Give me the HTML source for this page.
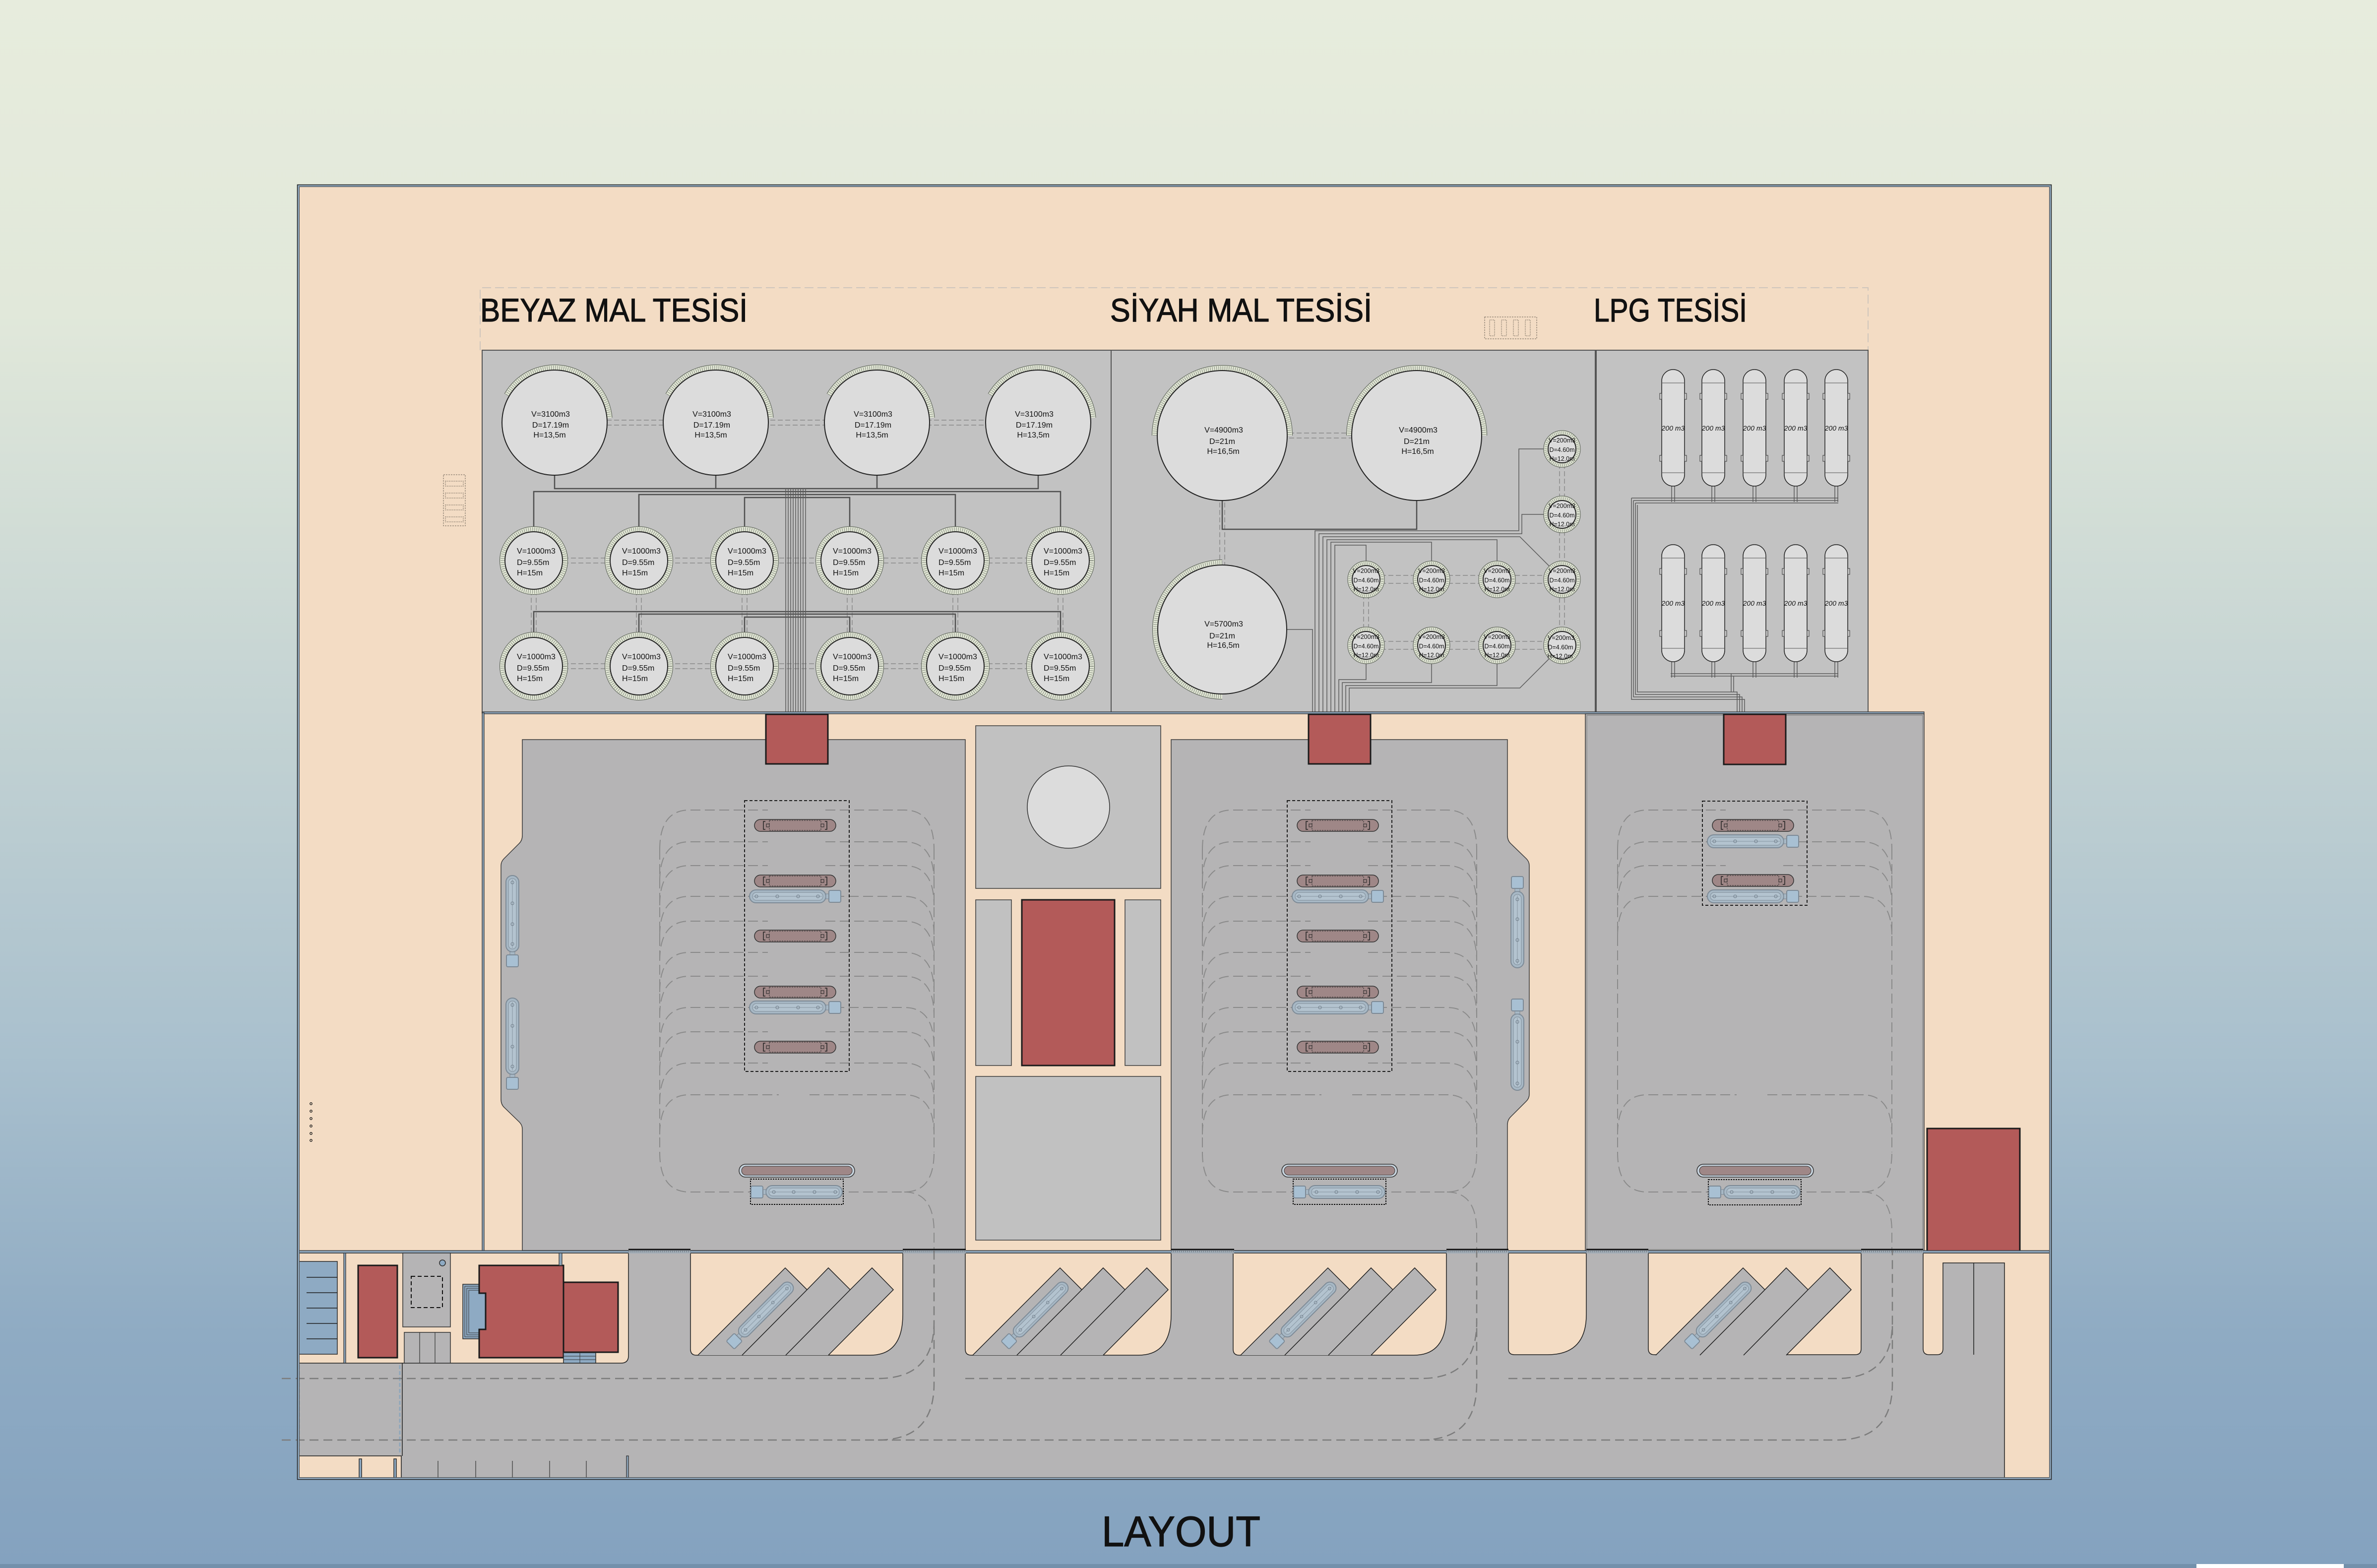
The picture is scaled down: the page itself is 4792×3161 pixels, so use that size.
<!DOCTYPE html>
<html><head><meta charset="utf-8">
<style>
html,body{margin:0;padding:0;width:4792px;height:3161px;overflow:hidden;background:#c4d3d3}
svg{display:block}
text{font-family:"Liberation Sans",Arial,sans-serif;fill:#111}
.tt{stroke:#111;stroke-width:1.2}
.tk{fill:#dcdcdc;stroke:#222;stroke-width:2}
.r1{fill:none;stroke:#4e554a;stroke-width:12}
.r2{fill:none;stroke:#e2e7d6;stroke-width:10}
.r3{fill:none;stroke:#8f9588;stroke-width:8;stroke-dasharray:1.2 3}
.s1{fill:none;stroke:#4e554a;stroke-width:10}
.s2{fill:none;stroke:#e2e7d6;stroke-width:8}
.s3{fill:none;stroke:#8f9588;stroke-width:6;stroke-dasharray:1.2 2.6}
.ds{fill:none;stroke:#8a8a8a;stroke-width:1.5;stroke-dasharray:10 5}
.pp{fill:none;stroke:#4f4f4f;stroke-width:2.5}
.pl{fill:none;stroke:#5a5a5a;stroke-width:1.5}
.red{fill:#b35a59;stroke:#1a1a1a;stroke-width:3}
.pad{fill:#b5b4b5;stroke:#3a3a3a;stroke-width:1.5}
.mc{fill:#c1c1c1;stroke:#3c3c3c;stroke-width:1.5}
.bx{fill:none;stroke:#1e1e1e;stroke-width:2;stroke-dasharray:6 4}
.rd{fill:none;stroke:#7c7c7c;stroke-width:2.5;stroke-dasharray:18 10}
.wall{fill:#8ea6bb;stroke:#2a2a2a;stroke-width:1.2}
.bl{fill:#8eaac3;stroke:#2a2a2a;stroke-width:1.5}
</style></head><body>
<svg xmlns="http://www.w3.org/2000/svg" width="4792" height="3161" viewBox="0 0 4792 3161">
<defs>
<linearGradient id="bg" x1="0" y1="0" x2="0" y2="1">
<stop offset="0" stop-color="#e7ecdd"/>
<stop offset="0.2" stop-color="#e1e8da"/>
<stop offset="0.45" stop-color="#c4d3d3"/>
<stop offset="0.68" stop-color="#a8bfcd"/>
<stop offset="0.85" stop-color="#8fabc3"/>
<stop offset="1" stop-color="#84a2bf"/>
</linearGradient>
<g id="trk">
<rect x="-92" y="-13" width="154" height="26" rx="13" fill="#a7b8c5" stroke="#7d8a96" stroke-width="2"/>
<rect x="-86" y="-8" width="142" height="16" rx="8" fill="#b3c3cf" stroke="#8795a1" stroke-width="1.2"/>
<line x1="-84" y1="0" x2="54" y2="0" stroke="#8795a1" stroke-width="1"/>
<circle cx="-78" cy="0" r="3" fill="none" stroke="#6f7c88" stroke-width="1"/>
<circle cx="-36" cy="0" r="3" fill="none" stroke="#6f7c88" stroke-width="1"/>
<circle cx="6" cy="0" r="3" fill="none" stroke="#6f7c88" stroke-width="1"/>
<circle cx="46" cy="0" r="3" fill="none" stroke="#6f7c88" stroke-width="1"/>
<rect x="62" y="-5" width="6" height="10" fill="#a7b8c5" stroke="#7d8a96"/>
<rect x="68" y="-12" width="24" height="24" rx="3" fill="#a8c0d3" stroke="#7d8a96" stroke-width="2"/>
</g>
<g id="bay">
<rect x="-82" y="-12" width="164" height="24" rx="12" fill="#9f8787" stroke="#333" stroke-width="1.5"/>
<rect x="-52" y="-10" width="104" height="20" fill="none" stroke="#333" stroke-width="1" stroke-dasharray="3 2"/>
<path d="M-60,-8 H-64 V8 H-60 M60,-8 H64 V8 H60" fill="none" stroke="#222" stroke-width="1.5"/>
<rect x="-58" y="-3" width="6" height="6" fill="none" stroke="#222"/>
<rect x="52" y="-3" width="6" height="6" fill="none" stroke="#222"/>
</g>
<g id="lnA" fill="none" stroke="#8a8a8a" stroke-width="2" stroke-dasharray="20 9">
<path d="M-273,1713 Q-273,1633 -213,1633 H-55 M61,1633 H220 Q280,1633 280,1713"/>
<path d="M-273,1777 Q-273,1697 -213,1697 H-55 M61,1697 H220 Q280,1697 280,1777"/>
<path d="M-273,1825 Q-273,1745 -213,1745 H-55 M61,1745 H220 Q280,1745 280,1825"/>
<path d="M-273,1887 Q-273,1807 -213,1807 H220 Q280,1807 280,1887"/>
<path d="M-273,2287 Q-273,2207 -213,2207 H-33 M29,2207 H220 Q280,2207 280,2287"/>
<path d="M-273,2323 Q-273,2403 -213,2403 H220 Q280,2403 280,2323"/>
<path d="M220,2403 Q280,2403 280,2483 V2521"/>
<path d="M-273,1713 V2323 M280,1713 V2323"/>
</g>
<g id="lnB" fill="none" stroke="#8a8a8a" stroke-width="2" stroke-dasharray="20 9">
<path d="M-273,1937 Q-273,1857 -213,1857 H-55 M61,1857 H220 Q280,1857 280,1937"/>
<path d="M-273,2000 Q-273,1920 -213,1920 H-55 M61,1920 H220 Q280,1920 280,2000"/>
<path d="M-273,2048 Q-273,1968 -213,1968 H-55 M61,1968 H220 Q280,1968 280,2048"/>
<path d="M-273,2111 Q-273,2031 -213,2031 H220 Q280,2031 280,2111"/>
<path d="M-273,2160 Q-273,2080 -213,2080 H-55 M61,2080 H220 Q280,2080 280,2160"/>
<path d="M-273,2223 Q-273,2143 -213,2143 H-55 M61,2143 H220 Q280,2143 280,2223"/>
</g>
<g id="saw">
<path d="M15,2732 L191,2556 L235,2600 L278,2556 L322,2600 L366,2556 L409,2600 L278,2732 Z" fill="#b5b4b5"/>
<path d="M15,2732 L191,2556 L235,2600 L278,2556 L322,2600 L366,2556 L409,2600 L278,2732 M104,2732 L235,2600 M192,2732 L322,2600" fill="none" stroke="#1e1e1e" stroke-width="1.5"/>
<use href="#trk" transform="translate(142,2650) rotate(135) scale(0.95)"/>
</g>
</defs>

<rect width="4792" height="3161" fill="url(#bg)"/>
<rect y="3153" width="4792" height="8" fill="#7390ab"/>
<rect x="4428" y="3153" width="297" height="8" fill="#ffffff"/>

<!-- site -->
<rect x="600" y="373" width="3535" height="2609" fill="#f3dcc4"/>

<path d="M968,706 V580 H3766 V706" fill="none" stroke="#cfc6bc" stroke-width="2" stroke-dasharray="18 8"/>
<text class="tt" x="968" y="648" font-size="66" textLength="539" lengthAdjust="spacingAndGlyphs">BEYAZ MAL TESİSİ</text>
<text class="tt" x="2238" y="648" font-size="66" textLength="528" lengthAdjust="spacingAndGlyphs">SİYAH MAL TESİSİ</text>
<text class="tt" x="3213" y="648" font-size="66" textLength="309" lengthAdjust="spacingAndGlyphs">LPG TESİSİ</text>

<!-- small icons -->
<g fill="none" stroke="#9a8b7c" stroke-width="1.5">
<rect x="894" y="957" width="44" height="103" stroke-dasharray="3 2"/>
<rect x="898" y="970" width="36" height="10" stroke-dasharray="2 1.5"/>
<rect x="898" y="994" width="36" height="10" stroke-dasharray="2 1.5"/>
<rect x="898" y="1018" width="36" height="10" stroke-dasharray="2 1.5"/>
<rect x="898" y="1042" width="36" height="10" stroke-dasharray="2 1.5"/>
<rect x="2993" y="639" width="105" height="44" stroke-dasharray="3 2"/>
<rect x="3003" y="645" width="10" height="32" stroke-dasharray="2 1.5"/>
<rect x="3027" y="645" width="10" height="32" stroke-dasharray="2 1.5"/>
<rect x="3051" y="645" width="10" height="32" stroke-dasharray="2 1.5"/>
<rect x="3075" y="645" width="10" height="32" stroke-dasharray="2 1.5"/>
</g>

<!-- tank boxes -->
<rect x="972" y="706" width="1268" height="731" fill="#c2c2c2" stroke="#555" stroke-width="2"/>
<rect x="2240" y="706" width="976" height="731" fill="#c2c2c2" stroke="#555" stroke-width="2"/>
<rect x="3218" y="706" width="548" height="731" fill="#c2c2c2" stroke="#555" stroke-width="2"/>

<!-- dashed connections -->
<path class="ds" d="M1118,847 H2093 M1118,857 H2093"/>
<path class="ds" d="M1076,1125 H2138 M1076,1135 H2138 M1076,1338 H2138 M1076,1348 H2138"/>
<path class="ds" d="M1071,1130 V1343 M1081,1130 V1343 M1283,1130 V1343 M1293,1130 V1343 M1496,1130 V1343 M1506,1130 V1343 M1708,1130 V1343 M1718,1130 V1343 M1921,1130 V1343 M1931,1130 V1343 M2133,1130 V1343 M2143,1130 V1343"/>
<path class="ds" d="M2464,873 H2856 M2464,883 H2856 M2459,878 V1269 M2469,878 V1269"/>
<path class="ds" d="M2754,1160 H3149 M2754,1176 H3149 M2754,1293 H3149 M2754,1309 H3149 M3144,905 V1301 M3154,905 V1301 M2749,1168 V1301 M2759,1168 V1301"/>

<!-- Beyaz pipes -->
<path class="pp" d="M1118,958 V985 H2093 V958 M1443,958 V985 M1768,958 V985"/>
<path class="pp" d="M1076,1062 V991 H2138 V1062 M1288,1062 V997 H1926 V1062 M1501,1062 V1003 H1713 V1062"/>
<path class="pp" d="M1076,1275 V1233 H2138 V1275 M1288,1275 V1238 H1926 V1275 M1501,1275 V1244 H1713 V1275"/>
<path class="pl" d="M1584,985 V1437 M1589,985 V1437 M1594,985 V1437 M1599,985 V1437 M1604,985 V1437 M1609,985 V1437 M1614,985 V1437 M1619,985 V1437 M1624,985 V1437"/>

<!-- Siyah pipes -->
<path class="pp" d="M2464,1009 V1067 H2856 V1009"/>
<path class="pl" d="M2651,1437 V1070 H3062 V905 H3112"/>
<path class="pl" d="M2659,1437 V1076 H3068 V1037 H3112"/>
<path class="pl" d="M2667,1437 V1082 H3064 L3128,1146"/>
<path class="pl" d="M2675,1437 V1088 H3018 V1132"/>
<path class="pl" d="M2683,1437 V1093 H2886 V1132"/>
<path class="pl" d="M2691,1437 V1099 H2754 V1132"/>
<path class="pl" d="M2699,1437 V1370 H2754 V1337"/>
<path class="pl" d="M2706,1437 V1376 H2886 V1337"/>
<path class="pl" d="M2713,1437 V1382 H3018 V1337"/>
<path class="pl" d="M2720,1437 V1387 H3064 L3128,1323"/>
<path class="pl" d="M2594,1269 H2646 V1437"/>

<!-- LPG pipes -->
<path class="pl" d="M3370,980 V1012 M3376,980 V1012 M3451,980 V1012 M3457,980 V1012 M3534,980 V1012 M3540,980 V1012 M3617,980 V1012 M3623,980 V1012 M3699,980 V1012 M3705,980 V1012"/>
<path class="pl" d="M3289,1004 H3706 M3293,1009 H3706 M3297,1014 H3706"/>
<path class="pl" d="M3289,1004 V1410 H3517 V1437 M3293,1009 V1405 H3512 V1437 M3297,1014 V1400 H3507 V1437 M3301,1018 V1395 H3502 V1437"/>
<path class="pl" d="M3370,1334 V1366 M3376,1334 V1366 M3451,1334 V1366 M3457,1334 V1366 M3534,1334 V1366 M3540,1334 V1366 M3617,1334 V1366 M3623,1334 V1366 M3699,1334 V1366 M3705,1334 V1366"/>
<path class="pl" d="M3368,1358 H3706 M3368,1363 H3706 M3490,1358 V1395 M3495,1363 V1395"/>

<!-- 3100 tanks -->
<path class="r1" d="M1021.9,796.5 A111,111 0 0 1 1228.6,842.3"/><path class="r2" d="M1021.9,796.5 A111,111 0 0 1 1228.6,842.3"/><path class="r3" d="M1021.9,796.5 A111,111 0 0 1 1228.6,842.3"/>
<path class="r1" d="M1346.9,796.5 A111,111 0 0 1 1553.6,842.3"/><path class="r2" d="M1346.9,796.5 A111,111 0 0 1 1553.6,842.3"/><path class="r3" d="M1346.9,796.5 A111,111 0 0 1 1553.6,842.3"/>
<path class="r1" d="M1671.9,796.5 A111,111 0 0 1 1878.6,842.3"/><path class="r2" d="M1671.9,796.5 A111,111 0 0 1 1878.6,842.3"/><path class="r3" d="M1671.9,796.5 A111,111 0 0 1 1878.6,842.3"/>
<path class="r1" d="M1996.9,796.5 A111,111 0 0 1 2203.6,842.3"/><path class="r2" d="M1996.9,796.5 A111,111 0 0 1 2203.6,842.3"/><path class="r3" d="M1996.9,796.5 A111,111 0 0 1 2203.6,842.3"/>
<circle class="tk" cx="1118" cy="852" r="106"/>
<circle class="tk" cx="1443" cy="852" r="106"/>
<circle class="tk" cx="1768" cy="852" r="106"/>
<circle class="tk" cx="2093" cy="852" r="106"/>
<g font-size="16" text-anchor="middle">
<text x="1110" y="840">V=3100m3</text><text x="1110" y="862">D=17.19m</text><text x="1108" y="882">H=13,5m</text>
<text x="1435" y="840">V=3100m3</text><text x="1435" y="862">D=17.19m</text><text x="1433" y="882">H=13,5m</text>
<text x="1760" y="840">V=3100m3</text><text x="1760" y="862">D=17.19m</text><text x="1758" y="882">H=13,5m</text>
<text x="2085" y="840">V=3100m3</text><text x="2085" y="862">D=17.19m</text><text x="2083" y="882">H=13,5m</text>
</g>

<!-- 1000 tanks -->
<g>
<circle class="r1" cx="1076" cy="1130" r="63"/><circle class="r2" cx="1076" cy="1130" r="63"/><circle class="r3" cx="1076" cy="1130" r="63"/><circle class="tk" cx="1076" cy="1130" r="58"/>
<circle class="r1" cx="1288" cy="1130" r="63"/><circle class="r2" cx="1288" cy="1130" r="63"/><circle class="r3" cx="1288" cy="1130" r="63"/><circle class="tk" cx="1288" cy="1130" r="58"/>
<circle class="r1" cx="1501" cy="1130" r="63"/><circle class="r2" cx="1501" cy="1130" r="63"/><circle class="r3" cx="1501" cy="1130" r="63"/><circle class="tk" cx="1501" cy="1130" r="58"/>
<circle class="r1" cx="1713" cy="1130" r="63"/><circle class="r2" cx="1713" cy="1130" r="63"/><circle class="r3" cx="1713" cy="1130" r="63"/><circle class="tk" cx="1713" cy="1130" r="58"/>
<circle class="r1" cx="1926" cy="1130" r="63"/><circle class="r2" cx="1926" cy="1130" r="63"/><circle class="r3" cx="1926" cy="1130" r="63"/><circle class="tk" cx="1926" cy="1130" r="58"/>
<circle class="r1" cx="2138" cy="1130" r="63"/><circle class="r2" cx="2138" cy="1130" r="63"/><circle class="r3" cx="2138" cy="1130" r="63"/><circle class="tk" cx="2138" cy="1130" r="58"/>
<circle class="r1" cx="1076" cy="1343" r="63"/><circle class="r2" cx="1076" cy="1343" r="63"/><circle class="r3" cx="1076" cy="1343" r="63"/><circle class="tk" cx="1076" cy="1343" r="58"/>
<circle class="r1" cx="1288" cy="1343" r="63"/><circle class="r2" cx="1288" cy="1343" r="63"/><circle class="r3" cx="1288" cy="1343" r="63"/><circle class="tk" cx="1288" cy="1343" r="58"/>
<circle class="r1" cx="1501" cy="1343" r="63"/><circle class="r2" cx="1501" cy="1343" r="63"/><circle class="r3" cx="1501" cy="1343" r="63"/><circle class="tk" cx="1501" cy="1343" r="58"/>
<circle class="r1" cx="1713" cy="1343" r="63"/><circle class="r2" cx="1713" cy="1343" r="63"/><circle class="r3" cx="1713" cy="1343" r="63"/><circle class="tk" cx="1713" cy="1343" r="58"/>
<circle class="r1" cx="1926" cy="1343" r="63"/><circle class="r2" cx="1926" cy="1343" r="63"/><circle class="r3" cx="1926" cy="1343" r="63"/><circle class="tk" cx="1926" cy="1343" r="58"/>
<circle class="r1" cx="2138" cy="1343" r="63"/><circle class="r2" cx="2138" cy="1343" r="63"/><circle class="r3" cx="2138" cy="1343" r="63"/><circle class="tk" cx="2138" cy="1343" r="58"/>
</g>
<g font-size="16">
<text x="1042" y="1116">V=1000m3</text><text x="1042" y="1139">D=9.55m</text><text x="1042" y="1160">H=15m</text>
<text x="1254" y="1116">V=1000m3</text><text x="1254" y="1139">D=9.55m</text><text x="1254" y="1160">H=15m</text>
<text x="1467" y="1116">V=1000m3</text><text x="1467" y="1139">D=9.55m</text><text x="1467" y="1160">H=15m</text>
<text x="1679" y="1116">V=1000m3</text><text x="1679" y="1139">D=9.55m</text><text x="1679" y="1160">H=15m</text>
<text x="1892" y="1116">V=1000m3</text><text x="1892" y="1139">D=9.55m</text><text x="1892" y="1160">H=15m</text>
<text x="2104" y="1116">V=1000m3</text><text x="2104" y="1139">D=9.55m</text><text x="2104" y="1160">H=15m</text>
<text x="1042" y="1329">V=1000m3</text><text x="1042" y="1352">D=9.55m</text><text x="1042" y="1373">H=15m</text>
<text x="1254" y="1329">V=1000m3</text><text x="1254" y="1352">D=9.55m</text><text x="1254" y="1373">H=15m</text>
<text x="1467" y="1329">V=1000m3</text><text x="1467" y="1352">D=9.55m</text><text x="1467" y="1373">H=15m</text>
<text x="1679" y="1329">V=1000m3</text><text x="1679" y="1352">D=9.55m</text><text x="1679" y="1373">H=15m</text>
<text x="1892" y="1329">V=1000m3</text><text x="1892" y="1352">D=9.55m</text><text x="1892" y="1373">H=15m</text>
<text x="2104" y="1329">V=1000m3</text><text x="2104" y="1352">D=9.55m</text><text x="2104" y="1373">H=15m</text>
</g>

<!-- Siyah big tanks -->
<path class="r1" d="M2328,878 A136,136 0 0 1 2600,878"/><path class="r2" d="M2328,878 A136,136 0 0 1 2600,878"/><path class="r3" d="M2328,878 A136,136 0 0 1 2600,878"/>
<path class="r1" d="M2720,878 A136,136 0 0 1 2992,878"/><path class="r2" d="M2720,878 A136,136 0 0 1 2992,878"/><path class="r3" d="M2720,878 A136,136 0 0 1 2992,878"/>
<path class="r1" d="M2464,1134 A135,135 0 0 0 2464,1404"/><path class="r2" d="M2464,1134 A135,135 0 0 0 2464,1404"/><path class="r3" d="M2464,1134 A135,135 0 0 0 2464,1404"/>
<circle class="tk" cx="2464" cy="878" r="131"/>
<circle class="tk" cx="2856" cy="878" r="131"/>
<circle class="tk" cx="2464" cy="1269" r="130"/>
<g font-size="16" text-anchor="middle">
<text x="2467" y="872">V=4900m3</text><text x="2464" y="895">D=21m</text><text x="2466" y="915">H=16,5m</text>
<text x="2859" y="872">V=4900m3</text><text x="2856" y="895">D=21m</text><text x="2858" y="915">H=16,5m</text>
<text x="2467" y="1263">V=5700m3</text><text x="2464" y="1287">D=21m</text><text x="2466" y="1306">H=16,5m</text>
</g>

<!-- small 200 tanks -->
<g>
<circle class="s1" cx="3149" cy="905" r="32.5"/><circle class="s2" cx="3149" cy="905" r="32.5"/><circle class="s3" cx="3149" cy="905" r="32.5"/><circle class="tk" cx="3149" cy="905" r="28"/>
<circle class="s1" cx="3149" cy="1037" r="32.5"/><circle class="s2" cx="3149" cy="1037" r="32.5"/><circle class="s3" cx="3149" cy="1037" r="32.5"/><circle class="tk" cx="3149" cy="1037" r="28"/>
<circle class="s1" cx="2754" cy="1168" r="32.5"/><circle class="s2" cx="2754" cy="1168" r="32.5"/><circle class="s3" cx="2754" cy="1168" r="32.5"/><circle class="tk" cx="2754" cy="1168" r="28"/>
<circle class="s1" cx="2886" cy="1168" r="32.5"/><circle class="s2" cx="2886" cy="1168" r="32.5"/><circle class="s3" cx="2886" cy="1168" r="32.5"/><circle class="tk" cx="2886" cy="1168" r="28"/>
<circle class="s1" cx="3018" cy="1168" r="32.5"/><circle class="s2" cx="3018" cy="1168" r="32.5"/><circle class="s3" cx="3018" cy="1168" r="32.5"/><circle class="tk" cx="3018" cy="1168" r="28"/>
<circle class="s1" cx="3149" cy="1168" r="32.5"/><circle class="s2" cx="3149" cy="1168" r="32.5"/><circle class="s3" cx="3149" cy="1168" r="32.5"/><circle class="tk" cx="3149" cy="1168" r="28"/>
<circle class="s1" cx="2754" cy="1301" r="32.5"/><circle class="s2" cx="2754" cy="1301" r="32.5"/><circle class="s3" cx="2754" cy="1301" r="32.5"/><circle class="tk" cx="2754" cy="1301" r="28"/>
<circle class="s1" cx="2886" cy="1301" r="32.5"/><circle class="s2" cx="2886" cy="1301" r="32.5"/><circle class="s3" cx="2886" cy="1301" r="32.5"/><circle class="tk" cx="2886" cy="1301" r="28"/>
<circle class="s1" cx="3018" cy="1301" r="32.5"/><circle class="s2" cx="3018" cy="1301" r="32.5"/><circle class="s3" cx="3018" cy="1301" r="32.5"/><circle class="tk" cx="3018" cy="1301" r="28"/>
<circle class="s1" cx="3149" cy="1301" r="32.5"/><circle class="s2" cx="3149" cy="1301" r="32.5"/><circle class="s3" cx="3149" cy="1301" r="32.5"/><circle class="tk" cx="3149" cy="1301" r="28"/>
</g>
<g font-size="12.5" text-anchor="middle">
<text x="3149" y="892">V=200m3</text><text x="3149" y="911">D=4.60m</text><text x="3149" y="929">H=12.0m</text>
<text x="3149" y="1024">V=200m3</text><text x="3149" y="1043">D=4.60m</text><text x="3149" y="1061">H=12.0m</text>
<text x="2754" y="1155">V=200m3</text><text x="2754" y="1174">D=4.60m</text><text x="2754" y="1192">H=12.0m</text>
<text x="2886" y="1155">V=200m3</text><text x="2886" y="1174">D=4.60m</text><text x="2886" y="1192">H=12.0m</text>
<text x="3018" y="1155">V=200m3</text><text x="3018" y="1174">D=4.60m</text><text x="3018" y="1192">H=12.0m</text>
<text x="3149" y="1155">V=200m3</text><text x="3149" y="1174">D=4.60m</text><text x="3149" y="1192">H=12.0m</text>
<text x="2754" y="1288">V=200m3</text><text x="2754" y="1307">D=4.60m</text><text x="2754" y="1325">H=12.0m</text>
<text x="2886" y="1288">V=200m3</text><text x="2886" y="1307">D=4.60m</text><text x="2886" y="1325">H=12.0m</text>
<text x="3018" y="1288">V=200m3</text><text x="3018" y="1307">D=4.60m</text><text x="3018" y="1325">H=12.0m</text>
<text x="3147" y="1290">V=200m3</text><text x="3146" y="1309">D=4.60m</text><text x="3145" y="1327">H=12.0m</text>
</g>

<!-- LPG bullet tanks -->
<g fill="#dcdcdc" stroke="#222" stroke-width="1.5">
<rect x="3350" y="745" width="46" height="235" rx="23"/><rect x="3431" y="745" width="46" height="235" rx="23"/><rect x="3514" y="745" width="46" height="235" rx="23"/><rect x="3597" y="745" width="46" height="235" rx="23"/><rect x="3679" y="745" width="46" height="235" rx="23"/>
<rect x="3350" y="1098" width="46" height="236" rx="23"/><rect x="3431" y="1098" width="46" height="236" rx="23"/><rect x="3514" y="1098" width="46" height="236" rx="23"/><rect x="3597" y="1098" width="46" height="236" rx="23"/><rect x="3679" y="1098" width="46" height="236" rx="23"/>
</g>
<g fill="none" stroke="#555" stroke-width="1">
<path d="M3350,772 H3396 M3350,953 H3396 M3431,772 H3477 M3431,953 H3477 M3514,772 H3560 M3514,953 H3560 M3597,772 H3643 M3597,953 H3643 M3679,772 H3725 M3679,953 H3725"/>
<path d="M3350,1125 H3396 M3350,1307 H3396 M3431,1125 H3477 M3431,1307 H3477 M3514,1125 H3560 M3514,1307 H3560 M3597,1125 H3643 M3597,1307 H3643 M3679,1125 H3725 M3679,1307 H3725"/>
</g>
<g fill="#cfcfcf" stroke="#333" stroke-width="1">
<rect x="3346" y="793" width="4" height="12"/><rect x="3396" y="793" width="4" height="12"/><rect x="3346" y="918" width="4" height="12"/><rect x="3396" y="918" width="4" height="12"/>
<rect x="3427" y="793" width="4" height="12"/><rect x="3477" y="793" width="4" height="12"/><rect x="3427" y="918" width="4" height="12"/><rect x="3477" y="918" width="4" height="12"/>
<rect x="3510" y="793" width="4" height="12"/><rect x="3560" y="793" width="4" height="12"/><rect x="3510" y="918" width="4" height="12"/><rect x="3560" y="918" width="4" height="12"/>
<rect x="3593" y="793" width="4" height="12"/><rect x="3643" y="793" width="4" height="12"/><rect x="3593" y="918" width="4" height="12"/><rect x="3643" y="918" width="4" height="12"/>
<rect x="3675" y="793" width="4" height="12"/><rect x="3725" y="793" width="4" height="12"/><rect x="3675" y="918" width="4" height="12"/><rect x="3725" y="918" width="4" height="12"/>
<rect x="3346" y="1146" width="4" height="12"/><rect x="3396" y="1146" width="4" height="12"/><rect x="3346" y="1271" width="4" height="12"/><rect x="3396" y="1271" width="4" height="12"/>
<rect x="3427" y="1146" width="4" height="12"/><rect x="3477" y="1146" width="4" height="12"/><rect x="3427" y="1271" width="4" height="12"/><rect x="3477" y="1271" width="4" height="12"/>
<rect x="3510" y="1146" width="4" height="12"/><rect x="3560" y="1146" width="4" height="12"/><rect x="3510" y="1271" width="4" height="12"/><rect x="3560" y="1271" width="4" height="12"/>
<rect x="3593" y="1146" width="4" height="12"/><rect x="3643" y="1146" width="4" height="12"/><rect x="3593" y="1271" width="4" height="12"/><rect x="3643" y="1271" width="4" height="12"/>
<rect x="3675" y="1146" width="4" height="12"/><rect x="3725" y="1146" width="4" height="12"/><rect x="3675" y="1271" width="4" height="12"/><rect x="3725" y="1271" width="4" height="12"/>
</g>
<g font-size="14" font-style="italic" text-anchor="middle">
<text x="3373" y="868">200 m3</text><text x="3454" y="868">200 m3</text><text x="3537" y="868">200 m3</text><text x="3620" y="868">200 m3</text><text x="3702" y="868">200 m3</text>
<text x="3373" y="1221">200 m3</text><text x="3454" y="1221">200 m3</text><text x="3537" y="1221">200 m3</text><text x="3620" y="1221">200 m3</text><text x="3702" y="1221">200 m3</text>
</g>

<!-- loading region -->
<rect class="wall" x="972" y="1435" width="2907" height="4"/>
<rect class="wall" x="972" y="1437" width="4" height="1085"/>
<path class="pad" d="M1053,1491 H1946 V2521 H1053 V2276 Q1053,2268 1047,2262 L1016,2232 Q1010,2226 1010,2216 V1745 Q1010,1737 1016,1731 L1047,1700 Q1053,1694 1053,1684 Z"/>
<path class="pad" d="M2361,1491 H3039 V1684 Q3039,1694 3045,1700 L3077,1731 Q3083,1737 3083,1745 V2206 Q3083,2214 3077,2220 L3045,2252 Q3039,2258 3039,2268 V2521 H2361 Z"/>
<rect class="pad" x="3196" y="1439" width="683" height="1083" stroke-width="2.5"/>
<rect x="3199" y="1442" width="677" height="1077" fill="none" stroke="#777" stroke-width="1"/>

<!-- middle column -->
<rect class="mc" x="1967" y="1463" width="373" height="328"/>
<circle cx="2154" cy="1627" r="83" fill="#dcdcdc" stroke="#333" stroke-width="1.5"/>
<rect class="mc" x="1967" y="1814" width="72" height="334"/>
<rect class="mc" x="2268" y="1814" width="72" height="334"/>
<rect class="red" x="2060" y="1814" width="187" height="334"/>
<rect class="mc" x="1967" y="2170" width="373" height="330"/>

<!-- red heads -->
<rect class="red" x="1544" y="1440" width="125" height="100"/>
<rect class="red" x="2638" y="1440" width="125" height="100"/>
<rect class="red" x="3475" y="1440" width="125" height="101"/>

<!-- lanes -->
<use href="#lnA" x="1603"/><use href="#lnB" x="1603"/>
<use href="#lnA" x="2697"/><use href="#lnB" x="2697"/>
<use href="#lnA" x="3534"/>

<!-- dashed boxes -->
<rect class="bx" x="1501" y="1614" width="211" height="546"/>
<rect class="bx" x="2595" y="1614" width="211" height="546"/>
<rect class="bx" x="3432" y="1615" width="211" height="210"/>

<!-- bays & trucks -->
<use href="#bay" transform="translate(1603,1664)"/><use href="#bay" transform="translate(1603,1776)"/><use href="#bay" transform="translate(1603,1887)"/><use href="#bay" transform="translate(1603,2000)"/><use href="#bay" transform="translate(1603,2111)"/>
<use href="#trk" transform="translate(1603,1807)"/><use href="#trk" transform="translate(1603,2031)"/>
<use href="#bay" transform="translate(2697,1664)"/><use href="#bay" transform="translate(2697,1776)"/><use href="#bay" transform="translate(2697,1887)"/><use href="#bay" transform="translate(2697,2000)"/><use href="#bay" transform="translate(2697,2111)"/>
<use href="#trk" transform="translate(2697,1807)"/><use href="#trk" transform="translate(2697,2031)"/>
<use href="#bay" transform="translate(3534,1664)"/><use href="#bay" transform="translate(3534,1775)"/>
<use href="#trk" transform="translate(3534,1696)"/><use href="#trk" transform="translate(3534,1807)"/>

<!-- bottom pills + trucks -->
<g>
<rect x="1490" y="2347" width="233" height="26" rx="13" fill="#c7d3dd" stroke="#333" stroke-width="1.5"/>
<rect x="1495" y="2351" width="223" height="18" rx="9" fill="#9f8787" stroke="#333" stroke-width="1"/>
<rect x="1513" y="2377" width="187" height="51" fill="none" stroke="#111" stroke-width="2" stroke-dasharray="3 2"/>
<use href="#trk" transform="translate(1606,2403) rotate(180)"/>
<rect x="2584" y="2347" width="233" height="26" rx="13" fill="#c7d3dd" stroke="#333" stroke-width="1.5"/>
<rect x="2589" y="2351" width="223" height="18" rx="9" fill="#9f8787" stroke="#333" stroke-width="1"/>
<rect x="2607" y="2377" width="187" height="51" fill="none" stroke="#111" stroke-width="2" stroke-dasharray="3 2"/>
<use href="#trk" transform="translate(2700,2403) rotate(180)"/>
<rect x="3421" y="2347" width="235" height="26" rx="13" fill="#c7d3dd" stroke="#333" stroke-width="1.5"/>
<rect x="3426" y="2351" width="225" height="18" rx="9" fill="#9f8787" stroke="#333" stroke-width="1"/>
<rect x="3444" y="2378" width="187" height="51" fill="none" stroke="#111" stroke-width="2" stroke-dasharray="3 2"/>
<use href="#trk" transform="translate(3537,2403) rotate(180)"/>
</g>

<!-- side trucks -->
<use href="#trk" transform="translate(1033,1857) rotate(90)"/>
<use href="#trk" transform="translate(1033,2104) rotate(90)"/>
<use href="#trk" transform="translate(3059,1859) rotate(-90)"/>
<use href="#trk" transform="translate(3059,2106) rotate(-90)"/>

<!-- right red building -->
<rect class="red" x="3885" y="2275" width="187" height="251"/>

<!-- bottom strip -->
<rect x="600" y="2526" width="3535" height="456" fill="#b5b4b5"/>
<path d="M600,2526 H1267 V2733 Q1267,2748 1252,2748 H600 Z" fill="#f3dcc4" stroke="#1e1e1e" stroke-width="1.5"/>
<path d="M600,2543 H680 V2730 H600" class="bl"/>
<path d="M618,2575 H680 M618,2606 H680 M618,2637 H680 M618,2668 H680 M618,2699 H680" stroke="#1e1e1e" stroke-width="1.5"/>
<rect class="wall" x="693" y="2526" width="4" height="222"/>

<path d="M1392,2526 H1820 V2650 Q1820,2732 1754,2732 H1404 Q1392,2732 1392,2720 Z" fill="#f3dcc4" stroke="#1e1e1e" stroke-width="1.5"/>
<path d="M1946,2526 H2361 V2650 Q2361,2732 2295,2732 H1958 Q1946,2732 1946,2720 Z" fill="#f3dcc4" stroke="#1e1e1e" stroke-width="1.5"/>
<path d="M2486,2526 H2916 V2650 Q2916,2732 2850,2732 H2498 Q2486,2732 2486,2720 Z" fill="#f3dcc4" stroke="#1e1e1e" stroke-width="1.5"/>
<path d="M3323,2526 H3752 V2719 Q3752,2731 3740,2731 H3335 Q3323,2731 3323,2719 Z" fill="#f3dcc4" stroke="#1e1e1e" stroke-width="1.5"/>
<path d="M3041,2526 H3198 V2650 Q3198,2731 3120,2731 H3053 Q3041,2731 3041,2719 Z" fill="#f3dcc4" stroke="#1e1e1e" stroke-width="1.5"/>
<path d="M3877,2526 H4135 V2982 H4041 V2546 H3917 V2719 Q3917,2731 3905,2731 H3889 Q3877,2731 3877,2719 Z" fill="#f3dcc4" stroke="#1e1e1e" stroke-width="1.5"/>
<path d="M3979,2546 V2731" stroke="#1e1e1e" stroke-width="1.5"/>

<use href="#saw" x="1392"/>
<use href="#saw" x="1946"/>
<use href="#saw" x="2486"/>
<use href="#saw" x="3323"/>

<!-- wall at 2521 and gates -->
<rect class="wall" x="600" y="2521" width="3535" height="5"/>
<g fill="#a3adb6">
<rect x="1267" y="2519" width="125" height="8"/><rect x="1820" y="2519" width="127" height="8"/><rect x="2361" y="2519" width="127" height="8"/><rect x="2916" y="2519" width="125" height="8"/><rect x="3198" y="2519" width="125" height="8"/><rect x="3752" y="2519" width="125" height="8"/>
</g>
<path d="M1267,2519 H1392 M1820,2519 H1947 M2361,2519 H2488 M2916,2519 H3041 M3198,2519 H3323 M3752,2519 H3877" stroke="#111" stroke-width="3"/>
<path d="M1267,2523 H1392 M1820,2523 H1947 M2361,2523 H2488 M2916,2523 H3041 M3198,2523 H3323 M3752,2523 H3877" stroke="#7b8690" stroke-width="3" stroke-dasharray="2 2"/>

<!-- admin area details -->
<rect class="red" x="722" y="2551" width="79" height="186"/>
<rect x="812" y="2526" width="96" height="149" fill="#b5b4b5" stroke="#333" stroke-width="1.5"/>
<circle cx="892" cy="2546" r="6" class="bl"/>
<rect x="829" y="2573" width="63" height="63" fill="none" stroke="#111" stroke-width="2" stroke-dasharray="8 5"/>
<rect x="815" y="2686" width="93" height="62" fill="#b5b4b5" stroke="#333" stroke-width="1.5"/>
<path d="M846,2686 V2748 M877,2686 V2748" stroke="#333" stroke-width="1.2"/>
<rect class="bl" x="933" y="2589" width="46" height="110"/>
<rect x="937" y="2593" width="42" height="102" fill="none" stroke="#333" stroke-width="1"/>
<rect x="941" y="2597" width="38" height="94" fill="none" stroke="#333" stroke-width="1"/>
<rect x="945" y="2601" width="34" height="86" fill="none" stroke="#333" stroke-width="1"/>
<path class="red" d="M966,2551 H1136 V2737 H966 V2680 H979 V2607 H966 Z"/>
<rect class="red" x="1136" y="2585" width="110" height="141"/>
<rect class="bl" x="1136" y="2727" width="65" height="21"/>
<path d="M1136,2734 H1201 M1136,2741 H1201 M1169,2727 V2748" stroke="#333" stroke-width="1"/>
<rect class="wall" x="1127" y="2526" width="6" height="25"/>

<!-- left lane and bottom-left -->
<path d="M811,2748 V2935" stroke="#1e1e1e" stroke-width="1.5"/>
<path d="M603,2752 V2932 M806,2752 V2932" stroke="#8ea6bb" stroke-width="3" stroke-dasharray="8 4"/>
<rect x="600" y="2935" width="209" height="47" fill="#f3dcc4" stroke="#1e1e1e" stroke-width="1.5"/>
<rect class="bl" x="724" y="2941" width="5" height="39" stroke="#111" stroke-width="2"/>
<rect class="bl" x="794" y="2941" width="5" height="39" stroke="#111" stroke-width="2"/>
<path d="M883,2945 V2982 M959,2945 V2982 M1033,2945 V2982 M1108,2945 V2982 M1182,2945 V2982" stroke="#333" stroke-width="1.2"/>
<rect class="wall" x="1263" y="2935" width="4" height="47"/>

<!-- road dashed -->
<path class="rd" d="M568,2779 H1770 Q1883,2779 1883,2666 V2521"/>
<path class="rd" d="M568,2903 H1770 Q1883,2903 1883,2790 V2666"/>
<path class="rd" d="M1946,2779 H2864 Q2977,2779 2977,2666 V2521"/>
<path class="rd" d="M1770,2903 H2864 Q2977,2903 2977,2790 V2666"/>
<path class="rd" d="M3041,2779 H3702 Q3815,2779 3815,2666 V2521"/>
<path class="rd" d="M2864,2903 H3702 Q3815,2903 3815,2790 V2666"/>

<!-- outer border -->
<rect x="601.5" y="374.5" width="3532" height="2606" fill="none" stroke="#8ea6bb" stroke-width="4"/>
<rect x="599.5" y="372.5" width="3536" height="2610" fill="none" stroke="#222" stroke-width="1.5"/>
<rect x="603.5" y="376.5" width="3528" height="2602" fill="none" stroke="#444" stroke-width="1"/>

<!-- dots -->
<g fill="none" stroke="#111" stroke-width="1.3">
<circle cx="627" cy="2225" r="2.2"/><circle cx="627" cy="2240" r="2.2"/><circle cx="627" cy="2255" r="2.2"/><circle cx="627" cy="2270" r="2.2"/><circle cx="627" cy="2285" r="2.2"/><circle cx="627" cy="2299" r="2.2"/>
</g>

<text class="tt" x="2221" y="3117" font-size="86" textLength="320" lengthAdjust="spacingAndGlyphs">LAYOUT</text>
</svg>
</body></html>
